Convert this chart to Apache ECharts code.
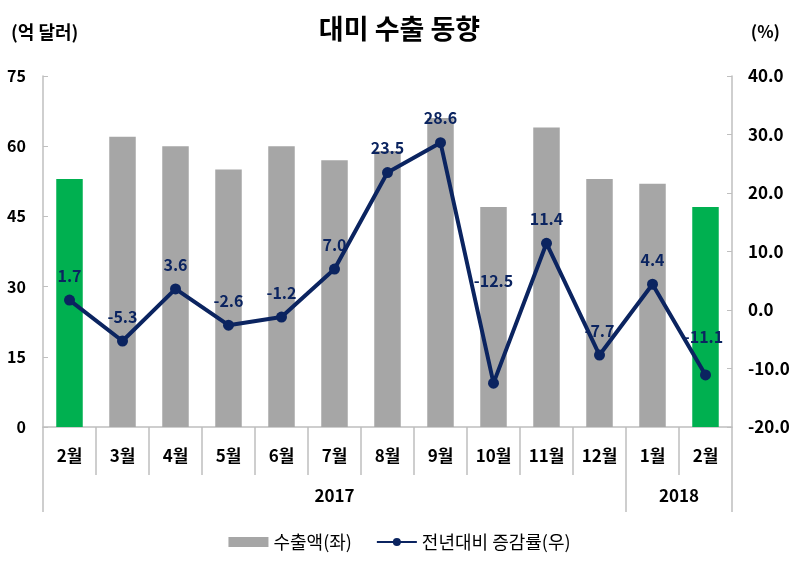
<!DOCTYPE html>
<html><head><meta charset="utf-8">
<script src="https://cdn.jsdelivr.net/npm/echarts@6/dist/echarts.min.js"></script>
<style>html,body{margin:0;padding:0;background:#fff}#c{width:799px;height:566px}</style>
</head><body><div id="c"></div>
<script>
var months = ['2월','3월','4월','5월','6월','7월','8월','9월','10월','11월','12월','1월','2월'];
var exports = [53, 62, 60, 55, 60, 57, 59, 66, 47, 64, 53, 52, 47];
var growth = [1.7, -5.3, 3.6, -2.6, -1.2, 7.0, 23.5, 28.6, -12.5, 11.4, -7.7, 4.4, -11.1];
var years = ['2017', '2018'];
var yearStart = [0, 11];
var highlight = [0, 12];

var FONT = '"Noto Sans CJK KR", "Noto Sans", sans-serif';
var navy = '#0B2460';
var gray = '#A6A6A6';
var green = '#00B050';
var axisGray = '#BFBFBF';

var labelOffsets = {8: [0, -78], 12: [-2, -14]};

var chart = echarts.init(document.getElementById('c'));
chart.setOption({
  animation: false,
  textStyle: {fontFamily: FONT},
  title: [
    {text: '대미 수출 동향', left: 'center', top: 10, textStyle: {fontFamily: FONT, fontSize: 27, fontWeight: 'bold', color: '#000'}},
    {text: '(억 달러)', left: 6, top: 18, textStyle: {fontFamily: FONT, fontSize: 18, fontWeight: 'bold', color: '#000'}},
    {text: '(%)', right: 14, top: 18, textStyle: {fontFamily: FONT, fontSize: 17, fontWeight: 'bold', color: '#000'}}
  ],
  legend: {
    bottom: 10, left: 'center', itemGap: 24, itemWidth: 40, itemHeight: 10,
    textStyle: {fontFamily: FONT, fontSize: 18, color: '#000'},
    data: [{name: '수출액(좌)', icon: 'rect'}, {name: '전년대비 증감률(우)'}]
  },
  grid: {left: 43, right: 67, top: 76, bottom: 139, containLabel: false},
  xAxis: [
    {
      type: 'category', data: months, position: 'bottom',
      axisLine: {onZero: false, lineStyle: {color: axisGray, width: 1.5}},
      axisTick: {show: true, length: 48, lineStyle: {color: axisGray, width: 1.5}},
      axisLabel: {margin: 20, interval: 0, fontFamily: FONT, fontSize: 17, fontWeight: 'bold', color: '#000'}
    },
    {
      type: 'category', data: months, position: 'bottom', offset: 0,
      axisLine: {show: false, onZero: false},
      splitLine: {show: false},
      axisTick: {show: true, length: 85, lineStyle: {color: axisGray, width: 1.5},
        interval: function (i) { return yearStart.indexOf(i) >= 0; }},
      axisLabel: {
        interval: function (i) { return i === 5 || i === yearStart[1]; },
        formatter: function (v, i) { return i < yearStart[1] ? years[0] : '{b|' + years[1] + '}'; },
        rich: {b: {padding: [0, 0, 0, 53], fontFamily: FONT, fontSize: 17, fontWeight: 'bold', color: '#000'}},
        margin: 60, fontFamily: FONT, fontSize: 17, fontWeight: 'bold', color: '#000'
      }
    }
  ],
  yAxis: [
    {
      type: 'value', min: 0, max: 75, interval: 15, position: 'left',
      axisLine: {show: true, onZero: false, lineStyle: {color: axisGray, width: 1.5}},
      axisTick: {show: true, inside: true, length: 5, lineStyle: {color: axisGray}},
      splitLine: {show: false},
      axisLabel: {margin: 17, fontFamily: FONT, fontSize: 16, fontWeight: 'bold', color: '#000'}
    },
    {
      type: 'value', min: -20, max: 40, interval: 10, position: 'right',
      axisLine: {show: true, onZero: false, lineStyle: {color: axisGray, width: 1.5}},
      axisTick: {show: true, inside: true, length: 5, lineStyle: {color: axisGray}},
      splitLine: {show: false},
      axisLabel: {margin: 16, fontFamily: FONT, fontSize: 17, fontWeight: 'bold', color: '#000',
        formatter: function (v) { return v.toFixed(1); }}
    }
  ],
  series: [
    {
      name: '수출액(좌)', type: 'bar', xAxisIndex: 0, yAxisIndex: 0,
      barWidth: '50%',
      itemStyle: {color: gray},
      data: exports.map(function (v, i) {
        return highlight.indexOf(i) >= 0 ? {value: v, itemStyle: {color: green}} : v;
      }),
      z: 1
    },
    {
      name: '전년대비 증감률(우)', type: 'line', xAxisIndex: 0, yAxisIndex: 1,
      symbol: 'circle', symbolSize: 11,
      lineStyle: {color: navy, width: 4},
      itemStyle: {color: navy},
      label: {show: true, position: 'top', distance: 11, fontFamily: FONT, fontSize: 16, fontWeight: 'bold', color: navy,
        formatter: function (p) { return p.value.toFixed(1); }},
      data: growth.map(function (v, i) {
        var d = {value: v};
        if (labelOffsets[i]) d.label = {offset: labelOffsets[i]};
        return d;
      }),
      z: 3
    }
  ]
});
</script></body></html>
